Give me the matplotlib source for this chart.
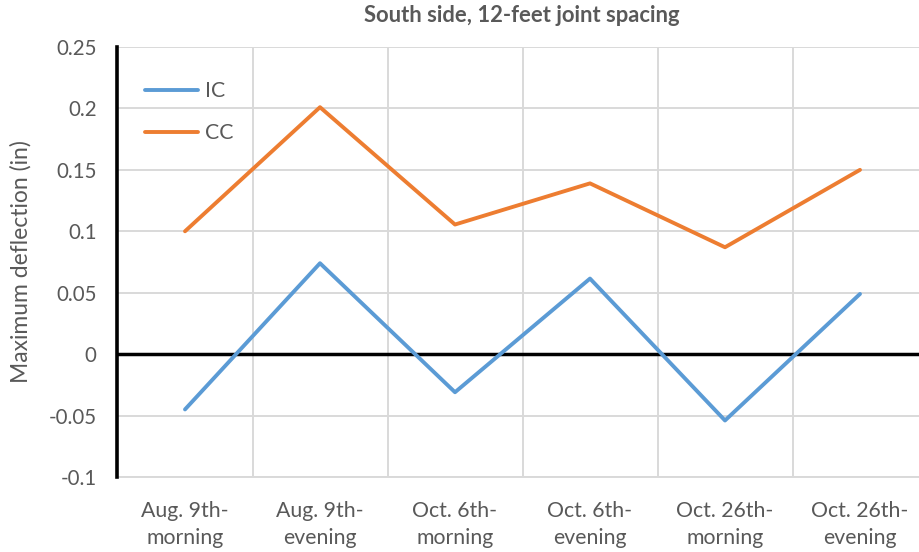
import matplotlib
matplotlib.use("Agg")
import matplotlib.pyplot as plt
from matplotlib.ticker import FixedLocator

plt.rcParams['font.family'] = ['Lato', 'DejaVu Sans']

categories = ["Aug. 9th-\nmorning", "Aug. 9th-\nevening", "Oct. 6th-\nmorning",
              "Oct. 6th-\nevening", "Oct. 26th-\nmorning", "Oct. 26th-\nevening"]
ic_values = [-0.045, 0.074, -0.031, 0.0615, -0.054, 0.049]
cc_values = [0.100, 0.201, 0.1055, 0.139, 0.087, 0.150]

y_ticks = [-0.1, -0.05, 0, 0.05, 0.1, 0.15, 0.2, 0.25]
y_tick_labels = ["-0.1", "-0.05", "0", "0.05", "0.1", "0.15", "0.2", "0.25"]

text_color = "#595959"
grid_color = "#D9D9D9"

fig = plt.figure(figsize=(9.19, 5.52), dpi=100)
ax = fig.add_axes([117.5 / 919, 75 / 552, 810 / 919, 430 / 552])

x = list(range(len(categories)))
ax.plot(x, ic_values, color="#5B9BD5", lw=2.8, label="IC", solid_capstyle="round", zorder=4)
ax.plot(x, cc_values, color="#ED7D31", lw=2.8, label="CC", solid_capstyle="round", zorder=4)
ax.axhline(0, color="black", lw=2.5, zorder=3)

ax.set_xlim(-0.5, len(categories) - 0.5)
ax.set_ylim(-0.1, 0.25)
ax.set_yticks(y_ticks)
ax.set_yticklabels(y_tick_labels)
ax.set_xticks(x)
ax.set_xticklabels(categories)
ax.xaxis.set_minor_locator(FixedLocator([i + 0.5 for i in range(len(categories))]))

ax.grid(True, axis="y", which="major", color=grid_color, lw=1.4, zorder=0)
ax.grid(True, axis="x", which="minor", color=grid_color, lw=1.4, zorder=0)
ax.set_axisbelow(True)

ax.tick_params(axis="both", which="both", length=0, colors=text_color)
ax.tick_params(axis="y", pad=15, labelsize=14.8)
ax.tick_params(axis="x", pad=17, labelsize=15.3)
for lbl in ax.get_xticklabels():
    lbl.set_linespacing(1.45)

for side in ("top", "right"):
    ax.spines[side].set_visible(False)
ax.spines["bottom"].set_color(grid_color)
ax.spines["bottom"].set_linewidth(1.4)
ax.spines["left"].set_color("black")
ax.spines["left"].set_linewidth(2.6)
ax.spines["left"].set_zorder(5)

ax.set_ylabel("Maximum deflection (in)", color=text_color, fontsize=16.5)
ax.yaxis.set_label_coords(-0.106, 0.5)

fig.text(522 / 919, 1 - 15 / 552, "South side, 12-feet joint spacing", ha="center", va="center",
         fontsize=15.8, fontweight="bold", color=text_color)

leg = ax.legend(loc="upper left", bbox_to_anchor=(0.01, 0.965), frameon=False,
                fontsize=15.3, handlelength=2.5, labelspacing=1.05, handletextpad=0.35)
for t in leg.get_texts():
    t.set_color(text_color)

fig.savefig("out.png", dpi=100)
